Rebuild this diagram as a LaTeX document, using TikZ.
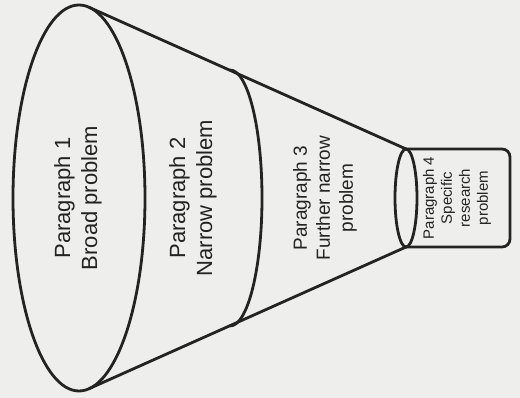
\documentclass[tikz,border=0pt]{standalone}
\usepackage{fontspec}
\setmainfont{Liberation Sans}
\usetikzlibrary{positioning, calc}
\definecolor{inkGray}{RGB}{35, 35, 35}
\definecolor{paperGray}{RGB}{238, 238, 236}

\begin{document}
\begin{tikzpicture}[x=1pt, y=1pt, line width=2.8pt]
    % Paper
    \fill[paperGray] (0,0) rectangle (520,398);
    \useasboundingbox (0,0) rectangle (520,398);

    % Rim points
    \coordinate (topA) at (89,390.7);
    \coordinate (botA) at (89,9.3);
    \coordinate (topB) at (230,328);
    \coordinate (topC) at (406,249);
    \coordinate (botC) at (406,151);

    % Funnel sides
    \draw[inkGray] (topA) -- (topC);
    \draw[inkGray] (botA) -- (botC);

    % Rings
    \draw[inkGray] (79,200) ellipse [x radius=66pt, y radius=193pt];
    \draw[inkGray] (topB) arc[start angle=90, end angle=-90, x radius=32pt, y radius=128pt];

    % Tube
    \draw[inkGray, rounded corners=8pt] (topC) -- (510,249) -- (510,151) -- (botC);
    \draw[inkGray] (406,200) ellipse [x radius=11pt, y radius=49pt];

    % Labels
    \node[rotate=90, align=center, text=inkGray, font=\fontsize{22}{27}\selectfont] at (78,200) (p1) {Paragraph 1\\Broad problem};
    \node[rotate=90, align=center, text=inkGray, font=\fontsize{22}{27}\selectfont] at (193,200) (p2) {Paragraph 2\\Narrow problem};
    \node[rotate=90, align=center, text=inkGray, font=\fontsize{19}{23}\selectfont] at (325,200) (p3) {Paragraph 3\\Further narrow\\problem};
    \node[rotate=90, align=center, text=inkGray, font=\fontsize{15}{18}\selectfont] at (457,200) (p4) {Paragraph 4\\Specific\\research\\problem};
\end{tikzpicture}
\end{document}
